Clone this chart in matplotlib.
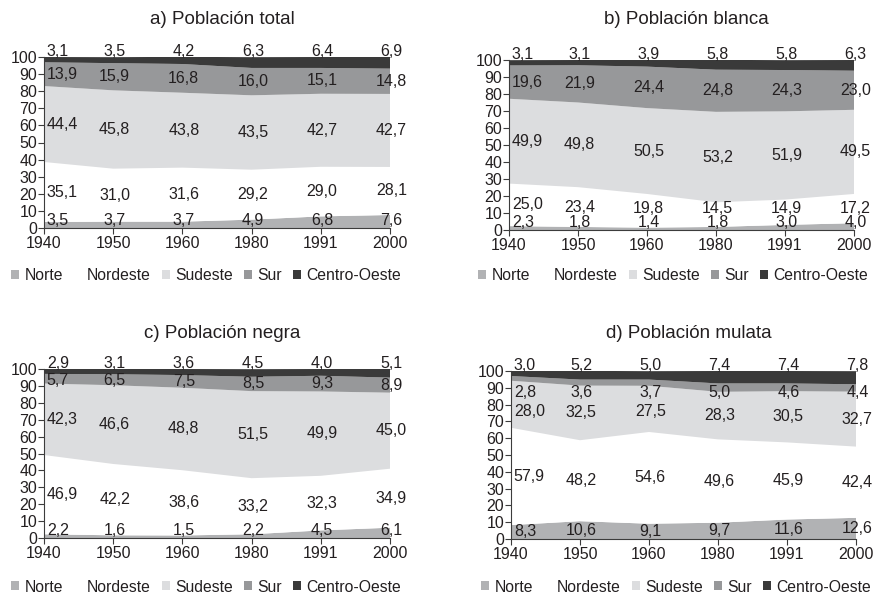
import matplotlib
matplotlib.use("Agg")
import matplotlib.pyplot as plt
from matplotlib.patches import Patch
import numpy as np

plt.rcParams['font.family'] = ['Liberation Sans', 'DejaVu Sans']

years = ["1940", "1950", "1960", "1980", "1991", "2000"]
regions = ["Norte", "Nordeste", "Sudeste", "Sur", "Centro-Oeste"]

titles = ["a) Población total", "b) Población blanca",
          "c) Población negra", "d) Población mulata"]

# a) Población total
total_norte = [3.5, 3.7, 3.7, 4.9, 6.8, 7.6]
total_nordeste = [35.1, 31.0, 31.6, 29.2, 29.0, 28.1]
total_sudeste = [44.4, 45.8, 43.8, 43.5, 42.7, 42.7]
total_sur = [13.9, 15.9, 16.8, 16.0, 15.1, 14.8]
total_co = [3.1, 3.5, 4.2, 6.3, 6.4, 6.9]

# b) Población blanca
blanca_norte = [2.3, 1.8, 1.4, 1.8, 3.0, 4.0]
blanca_nordeste = [25.0, 23.4, 19.8, 14.5, 14.9, 17.2]
blanca_sudeste = [49.9, 49.8, 50.5, 53.2, 51.9, 49.5]
blanca_sur = [19.6, 21.9, 24.4, 24.8, 24.3, 23.0]
blanca_co = [3.1, 3.1, 3.9, 5.8, 5.8, 6.3]

# c) Población negra
negra_norte = [2.2, 1.6, 1.5, 2.2, 4.5, 6.1]
negra_nordeste = [46.9, 42.2, 38.6, 33.2, 32.3, 34.9]
negra_sudeste = [42.3, 46.6, 48.8, 51.5, 49.9, 45.0]
negra_sur = [5.7, 6.5, 7.5, 8.5, 9.3, 8.9]
negra_co = [2.9, 3.1, 3.6, 4.5, 4.0, 5.1]

# d) Población mulata
mulata_norte = [8.3, 10.6, 9.1, 9.7, 11.6, 12.6]
mulata_nordeste = [57.9, 48.2, 54.6, 49.6, 45.9, 42.4]
mulata_sudeste = [28.0, 32.5, 27.5, 28.3, 30.5, 32.7]
mulata_sur = [2.8, 3.6, 3.7, 5.0, 4.6, 4.4]
mulata_co = [3.0, 5.2, 5.0, 7.4, 7.4, 7.8]

panels = [
    [total_norte, total_nordeste, total_sudeste, total_sur, total_co],
    [blanca_norte, blanca_nordeste, blanca_sudeste, blanca_sur, blanca_co],
    [negra_norte, negra_nordeste, negra_sudeste, negra_sur, negra_co],
    [mulata_norte, mulata_nordeste, mulata_sudeste, mulata_sur, mulata_co],
]

colors = ["#b1b2b4", "#ffffff", "#dcdddf", "#97989a", "#3a3a3a"]
text_color = "#231f20"
axis_color = "#3c3c3c"

W, H = 874, 595
# axes rects in pixels: left, top, right, bottom
rects_px = [(44, 57, 390, 228), (509, 60, 854, 230),
            (44, 369, 390, 538), (511, 371, 856, 539)]
legend_centers_px = [(206, 276), (673, 276), (206, 587), (676, 587)]
title_y_px = [20, 20, 333, 333]

fig = plt.figure(figsize=(W / 100, H / 100), dpi=100)
fig.patch.set_facecolor("white")

FS = 11.5


def fmt(v):
    return f"{v:.1f}".replace(".", ",")


for i, (series, (l, t, r, b)) in enumerate(zip(panels, rects_px)):
    ax = fig.add_axes([l / W, 1 - b / H, (r - l) / W, (b - t) / H])
    x = np.arange(len(years))
    ax.stackplot(x, *series, colors=colors, linewidth=0)
    ax.set_xlim(0, len(years) - 1)
    ax.set_ylim(0, 100)
    ax.set_xticks(x)
    ax.set_xticklabels(years)
    ax.set_yticks(np.arange(0, 101, 10))
    for s in ["top", "right"]:
        ax.spines[s].set_visible(False)
    for s in ["left", "bottom"]:
        ax.spines[s].set_color(axis_color)
        ax.spines[s].set_linewidth(0.8)
    ax.tick_params(axis="both", colors=axis_color, labelcolor=text_color,
                   labelsize=FS, length=4, width=0.8)
    ax.tick_params(axis="y", pad=1)
    ax.tick_params(axis="x", pad=1.5)

    arr = np.array(series)
    cum = np.cumsum(arr, axis=0)
    bottoms = cum - arr
    centers = bottoms + arr / 2
    for j in range(len(years)):
        y_co = 103.5
        band_sur = arr[3, j]
        y_sur = 87.0 if band_sur <= 5.0 else min(centers[3, j], 93.0)
        y_sud = min(centers[2, j], y_sur - 11)
        y_nor = max(centers[0, j], 4.2)
        y_nde = max(centers[1, j], y_nor + 8.5)
        ys = [y_nor, y_nde, y_sud, y_sur, y_co]
        for k in range(5):
            if j == 0:
                xx, ha = 0.04, "left"
            else:
                xx, ha = j + 0.02, "center"
            ax.text(xx, ys[k], fmt(arr[k, j]), ha=ha, va="center",
                    fontsize=FS, color=text_color, clip_on=False)

    fig.text(((l + r) / 2 + 5) / W, 1 - title_y_px[i] / H, titles[i],
             ha="center", va="center", fontsize=13.5, color=text_color)

    handles = [Patch(facecolor=c, edgecolor="none") for c in colors]
    cx, cy = legend_centers_px[i]
    fig.legend(handles, regions, loc="center",
               bbox_to_anchor=(cx / W, 1 - cy / H), ncol=5, frameon=False,
               fontsize=11.3, handlelength=0.5, handleheight=0.5,
               handletextpad=0.35, columnspacing=0.7, labelcolor=text_color)

fig.savefig("out.png", dpi=100, facecolor="white")
